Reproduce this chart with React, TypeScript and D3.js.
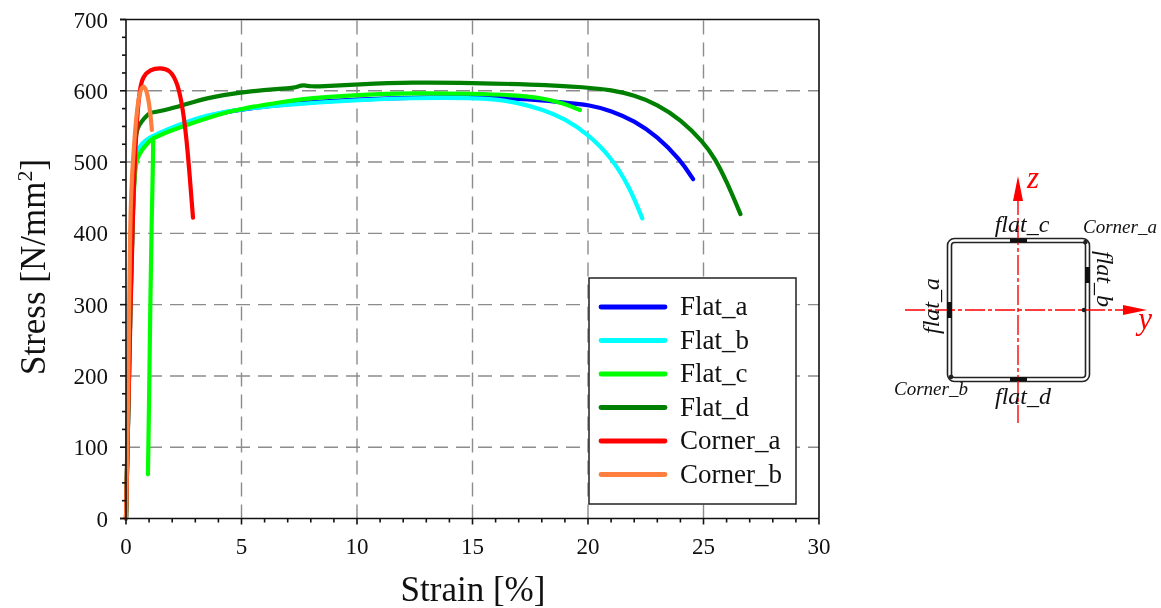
import * as d3 from "d3";
import { useEffect, useRef } from "react";

const xTicks = [0, 5, 10, 15, 20, 25, 30];
const yTicks = [0, 100, 200, 300, 400, 500, 600, 700];

// [strain %, stress N/mm2]
const flatA: [number, number][] = [
  [0, 0], [0.1, 150], [0.2, 320], [0.3, 440], [0.38, 495], [0.5, 516], [0.7, 525], [0.9, 531], [1.3, 538], [2.3, 552], [3.5, 565],
  [5, 574], [7, 582], [10, 588], [12.9, 591], [15, 591], [17, 589], [18.9, 584], [20.1, 580], [21, 572],
  [22, 558], [23, 536], [24, 503], [24.55, 476],
];
const flatB: [number, number][] = [
  [0, 0], [0.1, 150], [0.2, 320], [0.3, 440], [0.38, 497], [0.5, 518], [0.7, 526], [0.9, 532], [1.3, 539], [2.3, 553], [3.5, 566],
  [4.9, 574], [6.7, 580], [10, 587], [12.4, 590], [15, 590], [16, 588], [17, 583], [18, 574], [19, 561],
  [20, 539], [21, 507], [21.8, 465], [22.35, 421],
];
const flatCRise: [number, number][] = [
  [0, 0], [0.1, 150], [0.2, 320], [0.3, 430], [0.38, 485], [0.47, 505], [0.65, 515], [0.82, 522], [1, 529], [1.18, 533],
];
const flatCUnload: [number, number][] = [
  [1.18, 533], [1.15, 470], [1.12, 433], [1.05, 300], [1, 166], [0.95, 62],
];
const flatCUpper: [number, number][] = [
  [1.18, 533], [1.6, 540], [2.6, 552], [4, 567], [5, 575], [6.7, 584], [8, 590], [10, 594], [12.4, 597], [15, 596],
  [16.8, 594], [18, 590], [18.9, 583], [19.65, 573],
];
const flatD: [number, number][] = [
  [0, 0], [0.1, 170], [0.2, 350], [0.3, 480], [0.38, 530], [0.5, 549], [0.7, 558], [0.9, 565], [1.04, 569], [1.2, 570], [1.6, 572], [2.5, 580],
  [3.5, 590], [4.9, 598], [6.7, 603], [7.3, 604], [7.5, 607], [7.7, 608], [8, 606], [8.4, 606], [10, 609], [12.4, 612], [15, 611], [17.5, 609],
  [20, 605], [21, 601], [22, 594], [23, 581], [24, 560], [25, 528], [25.5, 505], [26, 473], [26.6, 427],
];
const cornerA: [number, number][] = [
  [0, 0], [0.1, 150], [0.2, 300], [0.3, 433], [0.45, 555], [0.6, 605], [0.74, 620], [1.04, 630], [1.47, 632], [1.9, 630],
  [2.25, 610], [2.47, 573], [2.65, 526], [2.9, 422],
];
const cornerB: [number, number][] = [
  [0, 0], [0.1, 165], [0.17, 433], [0.3, 503], [0.47, 577], [0.65, 606], [0.82, 607], [0.96, 591], [1.05, 570], [1.12, 545],
];

const series: { name: string; color: string; parts: [number, number][][] }[] = [
  { name: "Flat_a", color: "#0000ff", parts: [flatA] },
  { name: "Flat_b", color: "#00ffff", parts: [flatB] },
  { name: "Flat_c", color: "#00ff00", parts: [flatCRise, flatCUnload, flatCUpper] },
  { name: "Flat_d", color: "#008000", parts: [flatD] },
  { name: "Corner_a", color: "#ff0000", parts: [cornerA] },
  { name: "Corner_b", color: "#ff7f3f", parts: [cornerB] },
];

const serif = "'Liberation Serif', serif";

export default function App() {
  const ref = useRef<SVGSVGElement>(null);

  useEffect(() => {
    if (!ref.current) return;
    const svg = d3.select(ref.current);
    svg.selectAll("*").remove();

    const x = d3.scaleLinear().domain([0, 30]).range([126, 819]);
    const y = d3.scaleLinear().domain([0, 700]).range([518.5, 19.5]);

    // Dashed grid
    const grid = svg.append("g").attr("stroke", "#8c8c8c").attr("stroke-width", 1.4).attr("stroke-dasharray", "14 8");
    xTicks.slice(1, -1).forEach((t) => {
      grid.append("line").attr("x1", x(t)).attr("x2", x(t)).attr("y1", y(0)).attr("y2", y(700));
    });
    yTicks.slice(1, -1).forEach((t) => {
      grid.append("line").attr("x1", x(0)).attr("x2", x(30)).attr("y1", y(t)).attr("y2", y(t));
    });

    // Curves
    const line = d3.line<[number, number]>()
      .x((d) => x(d[0]))
      .y((d) => y(d[1]))
      .curve(d3.curveBasis);
    series.forEach((s) => {
      s.parts.forEach((p) => {
        svg.append("path")
          .attr("d", line(p))
          .attr("fill", "none")
          .attr("stroke", s.color)
          .attr("stroke-width", 4.2)
          .attr("stroke-linecap", "round")
          .attr("stroke-linejoin", "round");
      });
    });

    // Axes frame
    const frame = svg.append("g").attr("stroke", "#111").attr("stroke-width", 1.6);
    frame.append("line").attr("x1", x(0)).attr("x2", x(0)).attr("y1", y(0)).attr("y2", y(700));
    frame.append("line").attr("x1", x(30)).attr("x2", x(30)).attr("y1", y(0)).attr("y2", y(700));
    frame.append("line").attr("x1", x(0) - 6).attr("x2", x(30)).attr("y1", y(700)).attr("y2", y(700));
    frame.append("line").attr("x1", x(0) - 6).attr("x2", x(30)).attr("y1", y(0)).attr("y2", y(0));

    // Ticks, major and minor
    d3.range(0, 30.01, 1).forEach((t) => {
      frame.append("line").attr("x1", x(t)).attr("x2", x(t)).attr("y1", y(0))
        .attr("y2", y(0) + (t % 5 === 0 ? 6 : 4));
    });
    d3.range(0, 700.01, 25).forEach((t) => {
      frame.append("line").attr("y1", y(t)).attr("y2", y(t)).attr("x1", x(0))
        .attr("x2", x(0) - (t % 100 === 0 ? 6 : 4));
    });

    // Tick labels
    const labels = svg.append("g").attr("font-family", serif).attr("font-size", 23).attr("fill", "#111");
    xTicks.forEach((t) => {
      labels.append("text").attr("x", x(t)).attr("y", 554).attr("text-anchor", "middle").text(t);
    });
    yTicks.forEach((t) => {
      labels.append("text").attr("x", 108).attr("y", y(t) + 8).attr("text-anchor", "end").text(t);
    });

    // Axis titles
    svg.append("text").attr("x", 473).attr("y", 601).attr("text-anchor", "middle")
      .attr("font-family", serif).attr("font-size", 35).attr("fill", "#111").text("Strain [%]");
    const yt = svg.append("text").attr("transform", "translate(45,267) rotate(-90)").attr("text-anchor", "middle")
      .attr("font-family", serif).attr("font-size", 35).attr("fill", "#111");
    yt.append("tspan").text("Stress [N/mm");
    yt.append("tspan").attr("font-size", 22).attr("dy", -13).text("2");
    yt.append("tspan").attr("dy", 13).text("]");

    // Legend
    const legend = svg.append("g");
    legend.append("rect").attr("x", 589).attr("y", 278).attr("width", 207).attr("height", 226)
      .attr("fill", "#fff").attr("stroke", "#222").attr("stroke-width", 1.5);
    series.forEach((s, i) => {
      const ly = 307 + i * 33.5;
      legend.append("line").attr("x1", 601).attr("x2", 665).attr("y1", ly).attr("y2", ly)
        .attr("stroke", s.color).attr("stroke-width", 4.8).attr("stroke-linecap", "round");
      legend.append("text").attr("x", 680).attr("y", ly + 8).attr("font-family", serif)
        .attr("font-size", 27).attr("fill", "#111").text(s.name);
    });

    // Section sketch
    const sk = svg.append("g");
    sk.append("rect").attr("x", 947.5).attr("y", 238.5).attr("width", 142).attr("height", 143).attr("rx", 7)
      .attr("fill", "none").attr("stroke", "#222").attr("stroke-width", 1.6);
    sk.append("rect").attr("x", 951.5).attr("y", 242.5).attr("width", 134).attr("height", 135).attr("rx", 3)
      .attr("fill", "none").attr("stroke", "#222").attr("stroke-width", 1.6);

    const red = "#ff0000";
    sk.append("line").attr("x1", 905).attr("x2", 1125).attr("y1", 310).attr("y2", 310)
      .attr("stroke", red).attr("stroke-width", 1.4).attr("stroke-dasharray", "20 3 4 3");
    sk.append("line").attr("x1", 1018).attr("x2", 1018).attr("y1", 195).attr("y2", 423)
      .attr("stroke", red).attr("stroke-width", 1.4).attr("stroke-dasharray", "20 3 4 3");
    sk.append("path").attr("d", "M1123,305 L1147,310 L1123,315 Z").attr("fill", red);
    sk.append("path").attr("d", "M1018,176 L1023,201 L1013,201 Z").attr("fill", red);

    const blocks: [number, number, number, number][] = [
      [1010, 238.5, 17, 4], [1010, 377, 17, 4], [947, 302, 5, 16], [1085, 267, 5, 16],
    ];
    blocks.forEach((b) => {
      sk.append("rect").attr("x", b[0]).attr("y", b[1]).attr("width", b[2]).attr("height", b[3]).attr("fill", "#111");
    });
    const dots: [number, number][] = [[1085.5, 242], [1084, 310], [951, 377]];
    dots.forEach((d) => {
      sk.append("circle").attr("cx", d[0]).attr("cy", d[1]).attr("r", 2.3).attr("fill", "#222");
    });

    const note = (tx: number, ty: number, size: number, text: string, rot = 0, color = "#111") => {
      sk.append("text").attr("transform", `translate(${tx},${ty}) rotate(${rot})`)
        .attr("font-family", serif).attr("font-style", "italic").attr("font-size", size)
        .attr("fill", color).attr("text-anchor", "middle").text(text);
    };
    note(1022, 232, 24, "flat_c");
    note(1023, 404, 24, "flat_d");
    note(1120, 233, 19, "Corner_a");
    note(931, 395, 19, "Corner_b");
    note(939, 306, 24, "flat_a", -90);
    note(1097, 279, 24, "flat_b", 90);
    note(1033, 188, 31, "z", 0, red);
    note(1145, 329, 31, "y", 0, red);
  }, []);

  // The reference is a soft, slightly blurred scan
  return (
    <svg
      ref={ref}
      width={1161}
      height={608}
      style={{ position: "absolute", left: 0, top: 0, background: "#fff", filter: "blur(0.6px)" }}
    />
  );
}
